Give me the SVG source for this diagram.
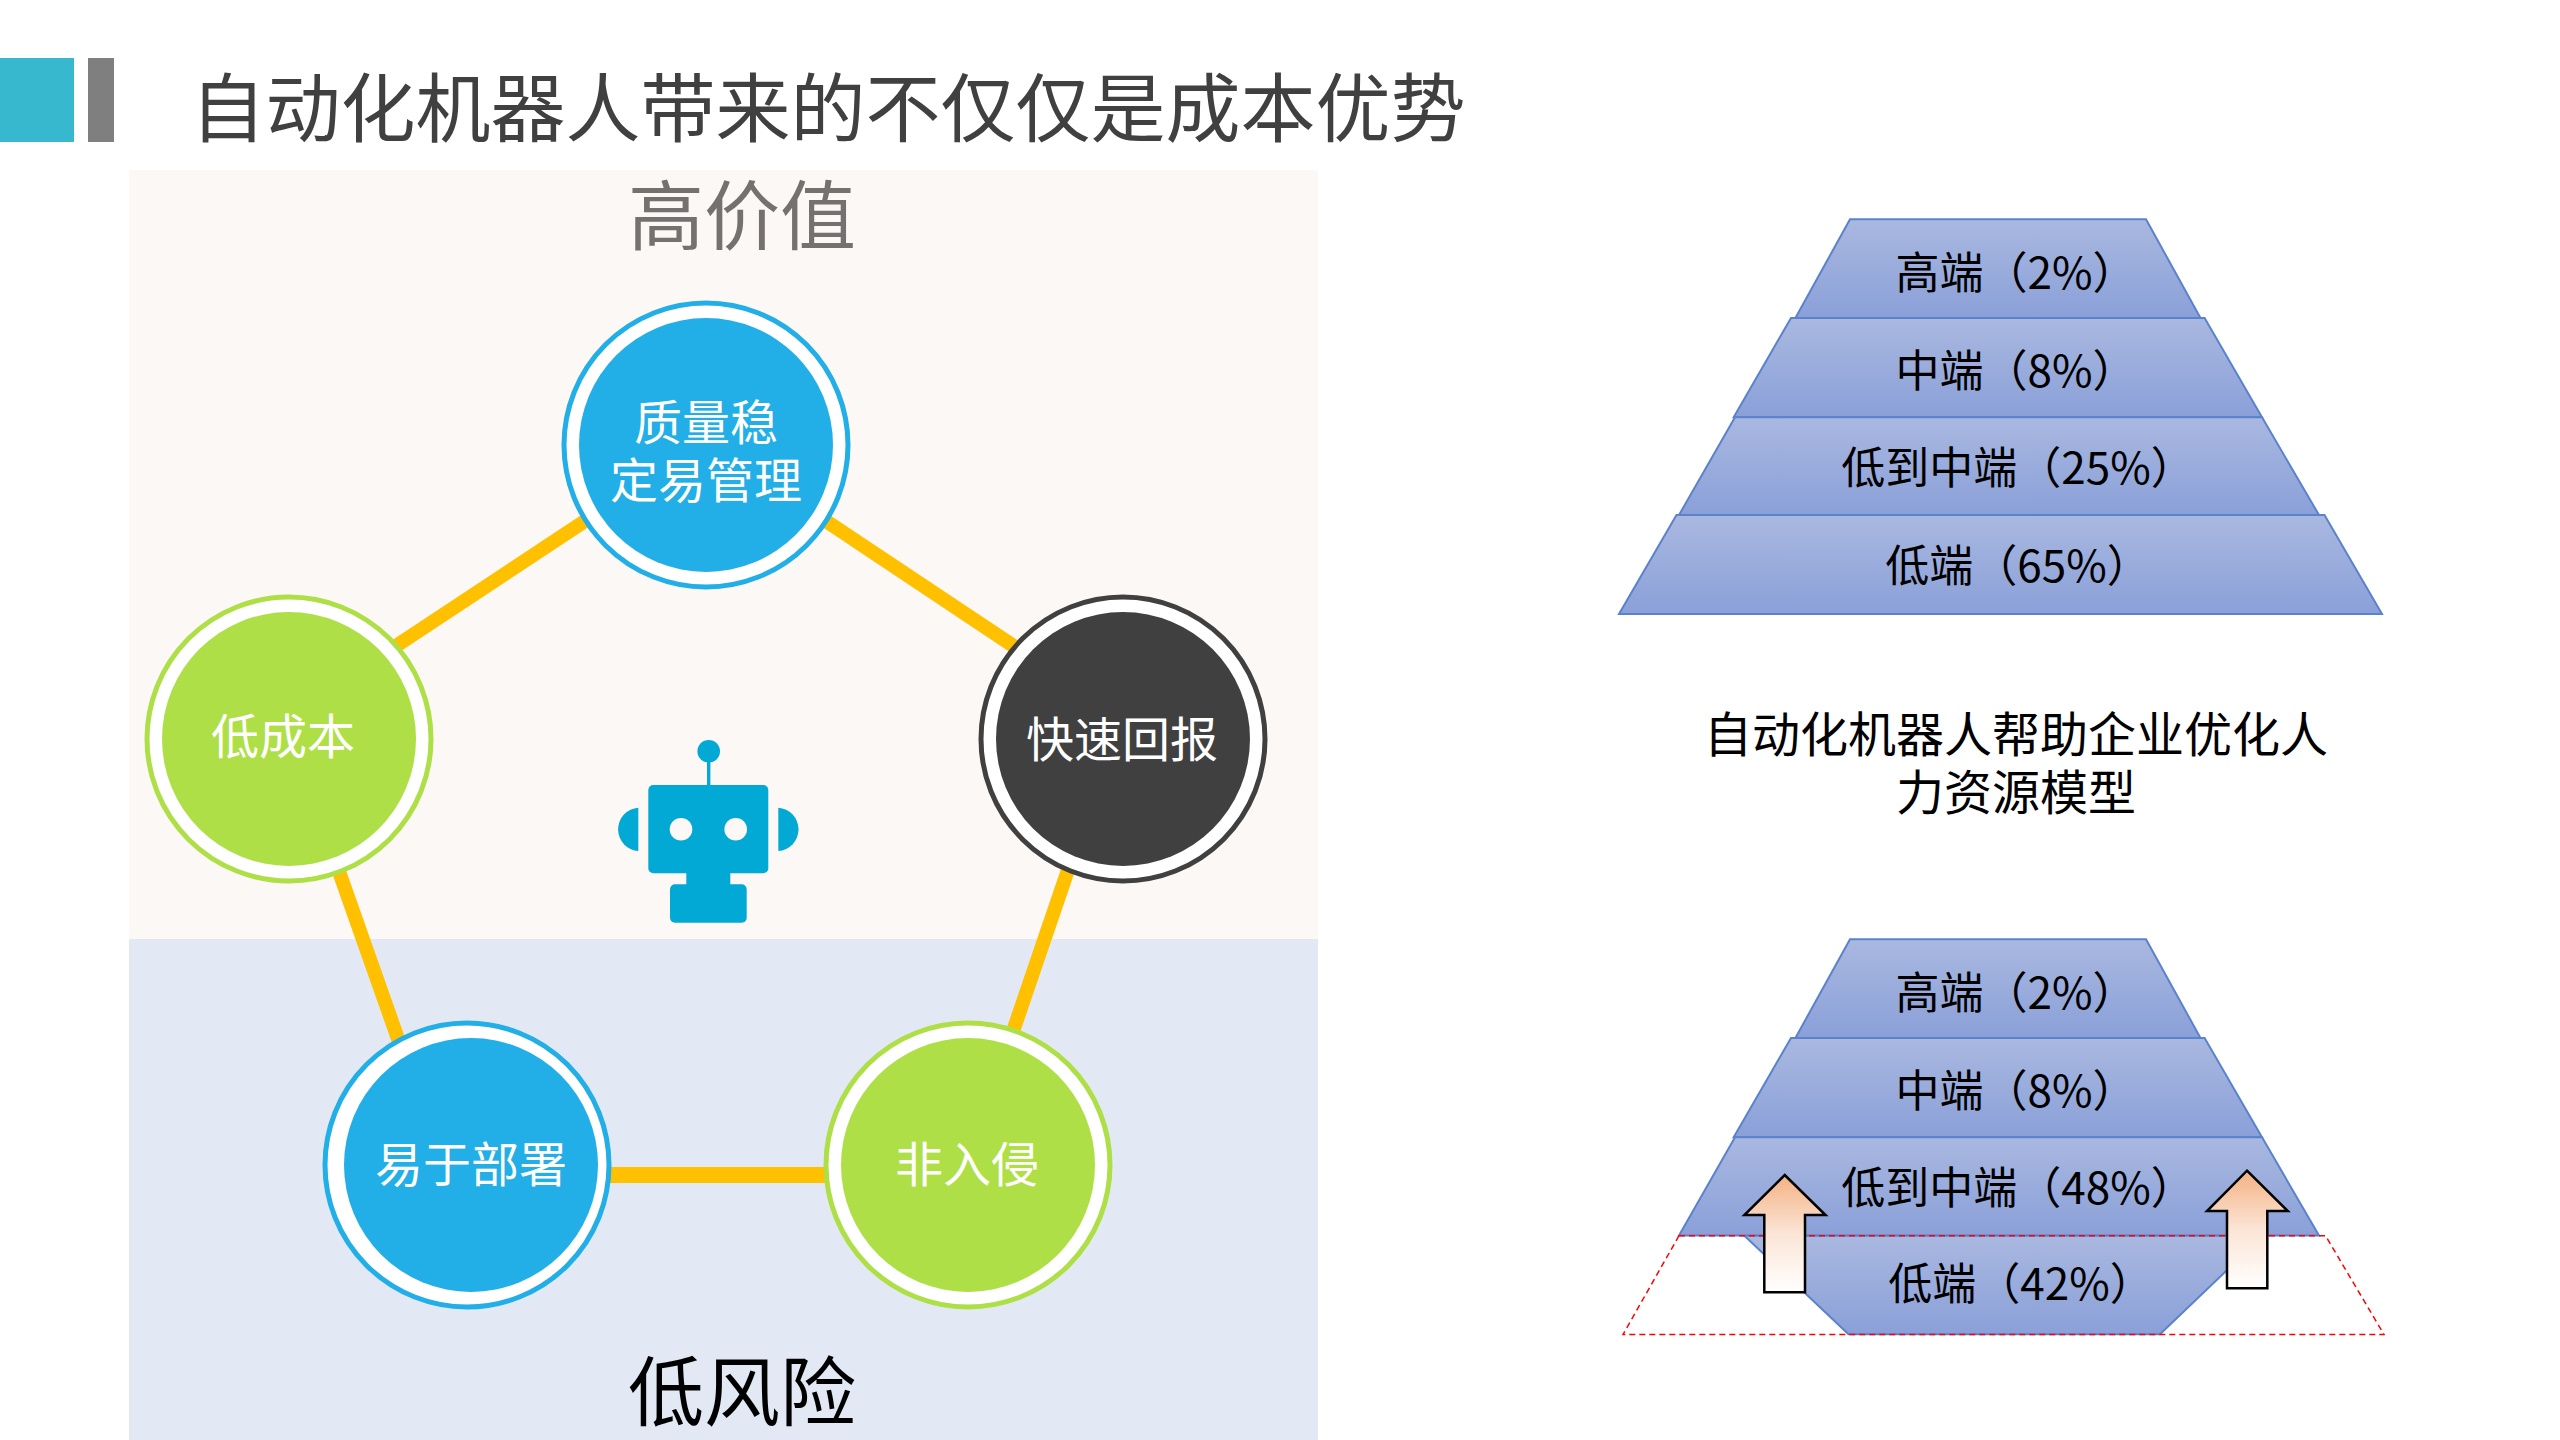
<svg xmlns="http://www.w3.org/2000/svg" width="2560" height="1440" viewBox="0 0 2560 1440">
<style>
text{font-family:"Microsoft YaHei","Noto Sans CJK SC","Noto Sans",sans-serif;text-anchor:middle;font-weight:400}
.lbl{font-size:48px;fill:#fff}
.pyr{font-size:44px;fill:#000}
.tier{fill:url(#tg);stroke:#5b82cc;stroke-width:2}
.arr{fill:url(#ag);stroke:#000;stroke-width:2.5}
.edge{stroke:#ffc000;stroke-width:14;fill:none}
.rob{fill:#02a9d5}
</style>
<defs>
<linearGradient id="tg" x1="0" y1="0" x2="0" y2="1"><stop offset="0" stop-color="#a9b8e0"/><stop offset="1" stop-color="#8aa0d8"/></linearGradient>
<linearGradient id="ag" x1="0" y1="0" x2="0" y2="1"><stop offset="0" stop-color="#f4b183"/><stop offset="0.5" stop-color="#fbe5d6"/><stop offset="1" stop-color="#fff"/></linearGradient>
</defs>
<rect width="2560" height="1440" fill="#fff"/>
<rect x="0" y="58" width="74" height="84" fill="#38b8cf"/>
<rect x="88" y="58" width="26" height="84" fill="#7f7f7f"/>
<text x="828" y="136" font-size="75" fill="#404040">自动化机器人带来的不仅仅是成本优势</text>
<rect x="129" y="170" width="1189" height="769" fill="#fcf8f5"/>
<rect x="129" y="939" width="1189" height="501" fill="#e2e9f4"/>
<text x="742" y="244" font-size="76" fill="#767171">高价值</text>
<text x="742" y="1420" font-size="76" fill="#000">低风险</text>
<g id="connectors">
<line class="edge" x1="290" y1="716" x2="706" y2="441"/>
<line class="edge" x1="706" y1="441" x2="1120" y2="717"/>
<line class="edge" x1="1112" y1="741" x2="964" y2="1175"/>
<line class="edge" x1="293" y1="741" x2="446" y2="1175"/>
<line class="edge" style="stroke-width:16" x1="467" y1="1175" x2="968" y2="1175"/>
</g>
<g id="node-quality">
<circle cx="706" cy="445" r="142" fill="#fff" stroke="#22aee6" stroke-width="5"/>
<circle cx="706" cy="445" r="127" fill="#22aee6"/>
<text class="lbl" x="706" y="440">质量稳<tspan x="706" y="498">定易管理</tspan></text>
</g>
<g id="node-cost">
<circle cx="289" cy="739" r="142" fill="#fff" stroke="#aedf47" stroke-width="5"/>
<circle cx="289" cy="739" r="127" fill="#aedf47"/>
<text class="lbl" x="283" y="754">低成本</text>
</g>
<g id="node-payback">
<circle cx="1123" cy="739" r="142" fill="#fff" stroke="#404040" stroke-width="5"/>
<circle cx="1123" cy="739" r="127" fill="#404040"/>
<text class="lbl" x="1122" y="757">快速回报</text>
</g>
<g id="node-deploy">
<circle cx="467" cy="1165" r="142" fill="#fff" stroke="#22aee6" stroke-width="5"/>
<circle cx="471" cy="1165" r="127" fill="#22aee6"/>
<text class="lbl" x="471" y="1182">易于部署</text>
</g>
<g id="node-noninvasive">
<circle cx="968" cy="1165" r="142" fill="#fff" stroke="#aedf47" stroke-width="5"/>
<circle cx="968" cy="1165" r="127" fill="#aedf47"/>
<text class="lbl" x="967" y="1182">非入侵</text>
</g>
<g id="robot" class="rob">
<circle cx="708.7" cy="751.3" r="11.3"/>
<rect x="707" y="760" width="3.4" height="26"/>
<rect x="648.3" y="785" width="120" height="88.3" rx="5"/>
<path d="M638.3 807.7A21.7 21.7 0 0 0 638.3 851Z"/>
<path d="M778.3 807.7A21.7 21.7 0 0 1 778.3 851Z"/>
<rect x="686.3" y="870" width="44" height="18"/>
<rect x="670" y="884.3" width="76.7" height="38.4" rx="5"/>
<circle cx="681" cy="829.3" r="11.3" fill="#fcf8f5"/>
<circle cx="735.7" cy="829.3" r="11.3" fill="#fcf8f5"/>
</g>
<g id="pyramid-before">
<g id="t1-high"><polygon class="tier" points="1850,219.3 2146,219.3 2200.5,318 1795.4,318"/><text class="pyr" x="2016" y="289">高端（2%）</text></g>
<g id="t1-mid"><polygon class="tier" points="1791,318 2204.6,318 2262,417.3 1733.7,417.3"/><text class="pyr" x="2016" y="387">中端（8%）</text></g>
<g id="t1-lowmid"><polygon class="tier" points="1735,417.3 2262,417.3 2319,515 1679,515"/><text class="pyr" x="2018" y="484">低到中端（25%）</text></g>
<g id="t1-low"><polygon class="tier" points="1676.5,515 2324.5,515 2382,614 1619,614"/><text class="pyr" x="2018" y="582">低端（65%）</text></g>
</g>
<g id="caption"><text x="2016" y="752" font-size="48" fill="#000">自动化机器人帮助企业优化人<tspan x="2016" y="810">力资源模型</tspan></text></g>
<g id="pyramid-after">
<g id="t2-high"><polygon class="tier" points="1850,939.3 2146,939.3 2200.5,1038 1795.4,1038"/><text class="pyr" x="2016" y="1009">高端（2%）</text></g>
<g id="t2-mid"><polygon class="tier" points="1791,1038 2204.6,1038 2262,1137.3 1733.7,1137.3"/><text class="pyr" x="2016" y="1107">中端（8%）</text></g>
<g id="t2-lowmid"><polygon class="tier" points="1735,1137.3 2262,1137.3 2319,1235.5 1679,1235.5"/><text class="pyr" x="2018" y="1204">低到中端（48%）</text></g>
<g id="t2-low"><polygon class="tier" points="1744.4,1235.7 2263,1235.7 2160,1334.3 1848.5,1334.3"/><text class="pyr" x="2021" y="1300">低端（42%）</text></g>
<polygon fill="none" stroke="#f00" stroke-width="1.5" stroke-dasharray="6 4" points="1679,1235.7 2325.5,1235.7 2384,1334.5 1623,1334.5"/>
<polygon id="arrow-left" class="arr" points="1784.7,1175 1825.5,1215 1805,1215 1805,1292.3 1764.3,1292.3 1764.3,1215 1744.4,1215"/>
<polygon id="arrow-right" class="arr" points="2247,1170.7 2287.8,1211 2267.3,1211 2267.3,1288.3 2227,1288.3 2227,1211 2207,1211"/>
</g>
</svg>
